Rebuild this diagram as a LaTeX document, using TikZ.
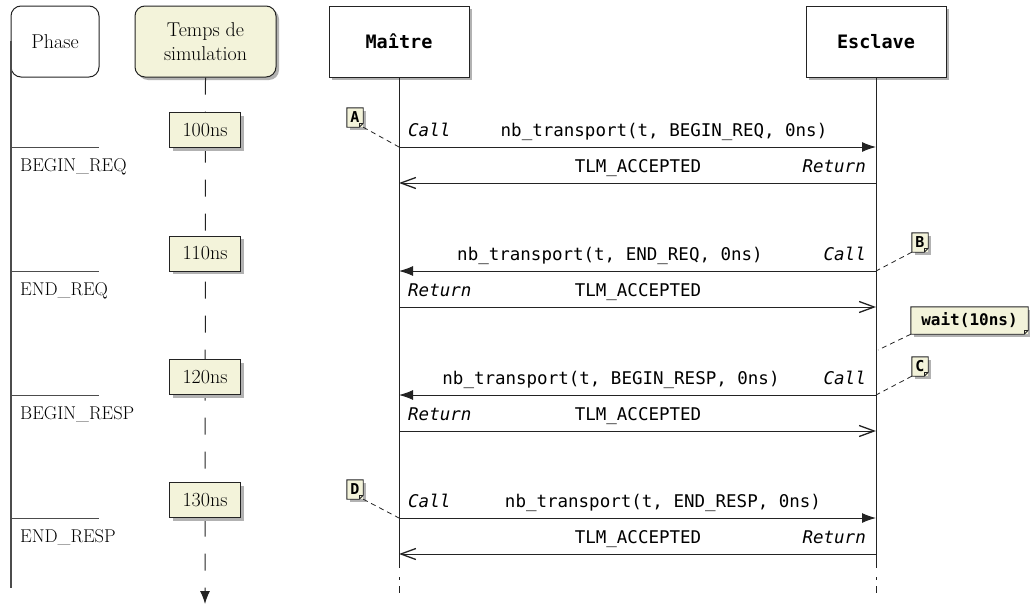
\documentclass[tikz,border=0pt]{standalone}
\usepackage{fontspec}
\setmonofont{DejaVu Sans Mono}
\usetikzlibrary{arrows.meta,positioning,shadows}
\newcommand\serifsize{\rmfamily\fontsize{20}{24}\selectfont}
\definecolor{notefill}{RGB}{243,243,218}
\definecolor{lineclr}{RGB}{35,35,35}
\tikzset{shadebox/.style={drop shadow={shadow xshift=3pt,shadow yshift=-3pt,fill=black!30,opacity=1}}}
\tikzset{head/.style={draw=lineclr,line width=1pt,fill=white,minimum width=140pt,minimum height=71pt,font=\ttfamily\bfseries\fontsize{18.5}{22}\selectfont,shadebox}}
\tikzset{phasebox/.style={draw=lineclr,line width=1pt,fill=white,rounded corners=10pt,minimum width=88pt,minimum height=71pt,font=\serifsize}}
\tikzset{timebox/.style={phasebox,fill=notefill,minimum width=141pt,align=center,shadebox}}
\tikzset{tick/.style={draw=lineclr,line width=1pt,fill=notefill,minimum width=71pt,minimum height=35pt,inner sep=0pt,font=\serifsize,shadebox}}
\tikzset{note/.style={fill=notefill,inner sep=0pt,font=\ttfamily\bfseries\fontsize{15}{18}\selectfont,shadebox}}
\tikzset{lbl/.style={inner sep=0pt,font=\ttfamily\fontsize{17.5}{20}\selectfont}}
\tikzset{ilbl/.style={lbl,font=\ttfamily\itshape\fontsize{17.5}{20}\selectfont}}
\tikzset{phaselbl/.style={inner sep=0pt,anchor=base west,font=\rmfamily\fontsize{18.5}{22}\selectfont}}
\tikzset{call/.style={draw=lineclr,line width=1pt,-{Latex[length=14pt,width=10pt]}}}
\tikzset{reply/.style={draw=lineclr,line width=1pt,-{Straight Barb[length=15pt,width=11pt,line width=1.3pt]}}}
\tikzset{link/.style={draw=lineclr,line width=0.8pt,dash pattern=on 5pt off 4pt}}

\newcommand\noteframe[1]{%
  \draw[lineclr,line width=0.9pt] (#1.north west) -- (#1.north east) -- ([yshift=4pt]#1.south east)
    -- ([xshift=-4pt]#1.south east) -- (#1.south west) -- cycle;
  \draw[lineclr,line width=0.9pt] ([yshift=4pt]#1.south east) -- ([xshift=-4pt,yshift=4pt]#1.south east)
    -- ([xshift=-4pt]#1.south east);}

\begin{document}
\begin{tikzpicture}[x=1pt,y=-1pt]
  \useasboundingbox (0,0) rectangle (1030,605);

  % time axis and lifelines first
  \coordinate (tend) at (205,604);
  \coordinate (ptop) at (11,41);
  \coordinate (pbot) at (11,588);
  \coordinate (mbot) at (399,568);
  \coordinate (mend) at (399,605);
  \coordinate (ebot) at (876,568);
  \coordinate (eend) at (876,605);

  \node[phasebox] (phase) at (55,41.5) {Phase};
  \node[timebox] (temps) at (205.5,41.5) {Temps de\\simulation};
  \node[head] (maitre) at (399,41.5) {Maître};
  \node[head] (esclave) at (876,41.5) {Esclave};

  \draw[lineclr,line width=1pt,dash pattern=on 17pt off 17pt,-{Latex[length=13pt,width=10pt]}] (temps.south) -- (tend);
  \draw[black!70,line width=1.2pt] (ptop) -- (pbot);
  \draw[lineclr,line width=1pt] (maitre.south) -- (mbot);
  \draw[lineclr,line width=1pt] (esclave.south) -- (ebot);
  \draw[lineclr,line width=1pt,dash pattern=on 0pt off 9pt on 3pt off 6pt on 7pt off 5pt] (mbot) -- (mend);
  \draw[lineclr,line width=1pt,dash pattern=on 0pt off 9pt on 3pt off 6pt on 7pt off 5pt] (ebot) -- (eend);

  % phases
  \foreach \y/\ph/\nm in {147/BEGIN\_REQ/br,271/END\_REQ/er,395/BEGIN\_RESP/bs,518/END\_RESP/es}{
    \coordinate (\nm a) at (11,\y);
    \coordinate (\nm b) at (99,\y);
    \draw[black!70,line width=1pt] (\nm a) -- (\nm b);
    \node[phaselbl] (\nm lbl) at (20,\y+24) {\ph};
  }

  % simulation times
  \node[tick] (t100) at (205,130) {100ns};
  \node[tick] (t110) at (205,253.5) {110ns};
  \node[tick] (t120) at (205,377) {120ns};
  \node[tick] (t130) at (205,500) {130ns};

  % message end points
  \foreach \i/\y in {1/147,2/183,3/271,4/307,5/395,6/431,7/518,8/554}{
    \coordinate (m\i) at (399,\y);
    \coordinate (e\i) at (876,\y);
  }

  \path[call] (m1) -- (e1);
  \path[reply] (e2) -- (m2);
  \path[call] (e3) -- (m3);
  \path[reply] (m4) -- (e4);
  \path[call] (e5) -- (m5);
  \path[reply] (m6) -- (e6);
  \path[call] (m7) -- (e7);
  \path[reply] (e8) -- (m8);

  \node[ilbl,anchor=base west] (c1) at (408,136) {Call};
  \node[lbl,anchor=base] (nb1) at (664,136) {nb\_transport(t, BEGIN\_REQ, 0ns)};
  \node[lbl,anchor=base] (ok1) at (638,172) {TLM\_ACCEPTED};
  \node[ilbl,anchor=base east] (r1) at (866,172) {Return};

  \node[lbl,anchor=base] (nb2) at (610,260) {nb\_transport(t, END\_REQ, 0ns)};
  \node[ilbl,anchor=base east] (c2) at (866,260) {Call};
  \node[ilbl,anchor=base west] (r2) at (408,296) {Return};
  \node[lbl,anchor=base] (ok2) at (638,296) {TLM\_ACCEPTED};

  \node[lbl,anchor=base] (nb3) at (611,384) {nb\_transport(t, BEGIN\_RESP, 0ns)};
  \node[ilbl,anchor=base east] (c3) at (866,384) {Call};
  \node[ilbl,anchor=base west] (r3) at (408,420) {Return};
  \node[lbl,anchor=base] (ok3) at (638,420) {TLM\_ACCEPTED};

  \node[ilbl,anchor=base west] (c4) at (408,507) {Call};
  \node[lbl,anchor=base] (nb4) at (663,507) {nb\_transport(t, END\_RESP, 0ns)};
  \node[lbl,anchor=base] (ok4) at (638,543) {TLM\_ACCEPTED};
  \node[ilbl,anchor=base east] (r4) at (866,543) {Return};

  % notes
  \coordinate (wpt) at (878,350);
  \node[note,minimum width=16pt,minimum height=19pt] (na) at (355,117.5) {A};
  \node[note,minimum width=16pt,minimum height=19pt] (nb) at (920,242.5) {B};
  \node[note,minimum width=117pt,minimum height=27pt,font=\ttfamily\bfseries\fontsize{16}{18}\selectfont] (nw) at (969.5,320.5) {wait(10ns)};
  \node[note,minimum width=16pt,minimum height=19pt] (nc) at (920,366.5) {C};
  \node[note,minimum width=16pt,minimum height=19pt] (nd) at (355,489.5) {D};
  \noteframe{na}\noteframe{nb}\noteframe{nw}\noteframe{nc}\noteframe{nd}

  \path[link] (na.south east) -- (m1);
  \path[link] (nb.south west) -- (e3);
  \path[link] (nw.south west) -- (wpt);
  \path[link] (nc.south west) -- (e5);
  \path[link] (nd.south east) -- (m7);
\end{tikzpicture}
\end{document}
